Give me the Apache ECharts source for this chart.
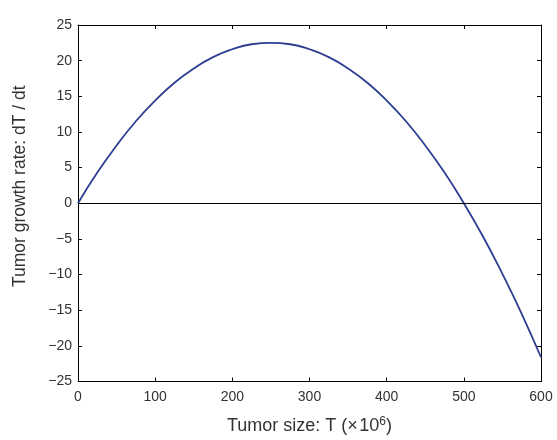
<!DOCTYPE html>
<html>
<head>
<meta charset="utf-8">
<script src="https://cdn.jsdelivr.net/npm/echarts@6/dist/echarts.min.js"></script>
<style>
html,body{margin:0;padding:0;background:#fff;}
#main{width:557px;height:440px;}
</style>
</head>
<body>
<div id="main"></div>
<script>
// 肿瘤大小 T (x10^6)
var sizeT = [0, 25, 50, 75, 100, 125, 150, 175, 200, 225, 250, 275, 300, 325, 350, 375, 400, 425, 450, 475, 500, 525, 550, 575, 600];
// 增长率 dT/dt
var growthRate = [0, 4.3, 8.1, 11.5, 14.4, 16.9, 18.9, 20.5, 21.6, 22.3, 22.5, 22.3, 21.6, 20.5, 18.9, 16.9, 14.4, 11.5, 8.1, 4.3, 0, -4.7, -9.9, -15.5, -21.6];

var myChart = echarts.init(document.getElementById('main'));

var points = [];
for (var i = 0; i < sizeT.length; i++) {
    points.push([sizeT[i], growthRate[i]]);
}

var fontFam = 'Liberation Sans, Arial, sans-serif';
var boxLine = {show: true, onZero: false, lineStyle: {color: '#000', width: 1}};
var tickIn = {show: true, inside: true, length: 4, lineStyle: {color: '#000'}};

var option = {
    animation: false,
    grid: {
        left: 78,
        right: 16,
        top: 25,
        bottom: 56
    },
    xAxis: [{
        type: 'value',
        min: 0,
        max: 600,
        interval: 100,
        name: '{n|Tumor size: T (\u00d7\u200a10}{s|6}{n|)}',
        nameLocation: 'middle',
        nameGap: 34,
        nameTextStyle: {
            rich: {
                n: {color: '#333', fontSize: 18, fontFamily: fontFam},
                s: {color: '#333', fontSize: 12, fontFamily: fontFam, verticalAlign: 'top', padding: [0, 0, 9, 0]}
            }
        },
        axisLine: boxLine,
        axisTick: tickIn,
        axisLabel: {color: '#333', fontSize: 14, fontFamily: fontFam, margin: 9},
        splitLine: {show: false}
    }, {
        type: 'value',
        position: 'top',
        min: 0,
        max: 600,
        interval: 100,
        axisLine: boxLine,
        axisTick: tickIn,
        axisLabel: {show: false},
        splitLine: {show: false}
    }],
    yAxis: [{
        type: 'value',
        min: -25,
        max: 25,
        interval: 5,
        name: 'Tumor growth rate: dT / dt',
        nameLocation: 'middle',
        nameGap: 49,
        nameTextStyle: {color: '#333', fontSize: 17.5, fontFamily: fontFam, padding: [0, 0, 0, 34]},
        axisLine: boxLine,
        axisTick: tickIn,
        axisLabel: {
            color: '#333', fontSize: 14, fontFamily: fontFam, margin: 6,
            formatter: function (v) { return v < 0 ? '\u2212' + (-v) : String(v); }
        },
        splitLine: {show: false}
    }, {
        type: 'value',
        position: 'right',
        min: -25,
        max: 25,
        interval: 5,
        axisLine: boxLine,
        axisTick: tickIn,
        axisLabel: {show: false},
        splitLine: {show: false}
    }],
    series: [{
        name: 'dT/dt',
        type: 'line',
        data: points,
        smooth: true,
        showSymbol: false,
        lineStyle: {color: '#2d3d92', width: 1.8},
        markLine: {
            silent: true,
            symbol: ['none', 'none'],
            label: {show: false},
            lineStyle: {color: '#000', type: 'solid', width: 1},
            data: [{yAxis: 0}]
        }
    }]
};

myChart.setOption(option);
</script>
</body>
</html>
